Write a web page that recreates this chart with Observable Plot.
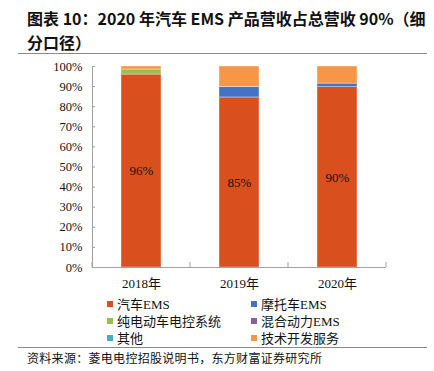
<!DOCTYPE html>
<html><head><meta charset="utf-8">
<script src="https://cdn.jsdelivr.net/npm/d3@7"></script>
<script src="https://cdn.jsdelivr.net/npm/@observablehq/plot@0.6"></script>
<style>
body{margin:0;background:#fff;width:434px;height:371px;position:relative;overflow:hidden;font-family:"Liberation Serif","Noto Sans CJK SC",serif;}
#title{position:absolute;left:27px;top:6px;font-family:"Noto Sans CJK SC",sans-serif;font-weight:bold;font-size:16px;line-height:24px;color:#111;white-space:nowrap;}
.hline{position:absolute;height:0;border-top:1.5px solid #8a8a8a;}
#chart{position:absolute;left:0;top:55px;}
.leg{position:absolute;font-size:13px;line-height:15px;color:#111;white-space:nowrap;}
.leg span.sw{display:inline-block;width:6px;height:6px;margin-right:4px;vertical-align:2px;}
#foot{position:absolute;left:27px;top:349px;font-family:"Noto Sans CJK SC",sans-serif;font-size:12px;letter-spacing:0.3px;color:#111;white-space:nowrap;}
</style></head>
<body>
<div id="title">图表 10：2020 年汽车 EMS 产品营收占总营收 90%（细<br>分口径）</div>
<div class="hline" style="left:18px;width:409px;top:53px;"></div>
<div id="chart"></div>
<div id="legend"></div>
<div class="hline" style="left:18px;width:409px;top:347px;"></div>
<div id="foot">资料来源：菱电电控招股说明书，东方财富证券研究所</div>
<script>
const years = ["2018年", "2019年", "2020年"];
const series = ["汽车EMS", "摩托车EMS", "纯电动车电控系统", "混合动力EMS", "其他", "技术开发服务"];
const colors = ["#D94F1E", "#4472C4", "#9BBB59", "#8064A2", "#4BACC6", "#F79646"];
const autoEMS = [96.0, 84.6, 89.7];
const motoEMS = [0, 5.2, 1.8];
const evControl = [2.5, 0, 0];
const hybridEMS = [0, 0, 0];
const others = [0, 0, 0];
const techService = [1.5, 10.2, 8.5];
const yTicks = [0, 0.1, 0.2, 0.3, 0.4, 0.5, 0.6, 0.7, 0.8, 0.9, 1.0];

const seriesValues = [autoEMS, motoEMS, evControl, hybridEMS, others, techService];
const data = [];
years.forEach((yr, i) => series.forEach((s, j) => data.push({year: yr, series: s, value: seriesValues[j][i] / 100})));
const labelData = years.map((yr, i) => ({year: yr, value: autoEMS[i] / 100}));

const plot = Plot.plot({
  width: 434, height: 240,
  marginLeft: 92, marginRight: 48, marginTop: 11, marginBottom: 28,
  style: {fontFamily: '"Liberation Serif","Noto Sans CJK SC",serif', fontSize: "12.5px", color: "#111", background: "transparent"},
  x: {domain: years, paddingInner: 0.59, paddingOuter: 0.295, label: null},
  y: {domain: [0, 1], label: null},
  color: {domain: series, range: colors},
  marks: [
    Plot.barY(data, {x: "year", y: "value", fill: "series", order: series, stroke: "#fff", strokeWidth: 0.6, strokeOpacity: 0.6}),
    Plot.text(labelData, {x: "year", y: d => d.value / 2, text: d => d3.format(".0%")(d.value), fontSize: 13, fill: "#111"}),
    Plot.frame({anchor: "left", stroke: "#a0a0a0"}),
    Plot.ruleY([0], {stroke: "#a0a0a0"}),
    Plot.axisY({ticks: yTicks, tickFormat: d3.format(".0%"), tickSize: 3, dx: 3, tickPadding: 10, stroke: "#a0a0a0", fontSize: 12.5}),
    Plot.axisX({tickSize: 0, tickPadding: 11, fontSize: 13})
  ]
});
document.getElementById("chart").appendChild(plot);

// band-boundary ticks on the x axis, derived from the x scale
const xs = plot.scale("x");
const step = (xs.range[1] - xs.range[0]) / years.length;
const svg = d3.select(plot);
const y0 = plot.scale("y").apply(0);
d3.range(years.length + 1).forEach(k => {
  const xp = xs.range[0] + k * step;
  svg.append("line").attr("x1", xp).attr("x2", xp).attr("y1", y0).attr("y2", y0 - 5)
    .attr("stroke", "#a0a0a0");
});

// legend
const legend = document.getElementById("legend");
const colX = [107, 251];
const rowY = [297, 314, 331];
series.forEach((s, i) => {
  const d = document.createElement("div");
  d.className = "leg";
  d.style.left = colX[i % 2] + "px";
  d.style.top = rowY[Math.floor(i / 2)] + "px";
  d.innerHTML = `<span class="sw" style="background:${colors[i]}"></span>${s}`;
  legend.appendChild(d);
});
</script>
</body></html>
